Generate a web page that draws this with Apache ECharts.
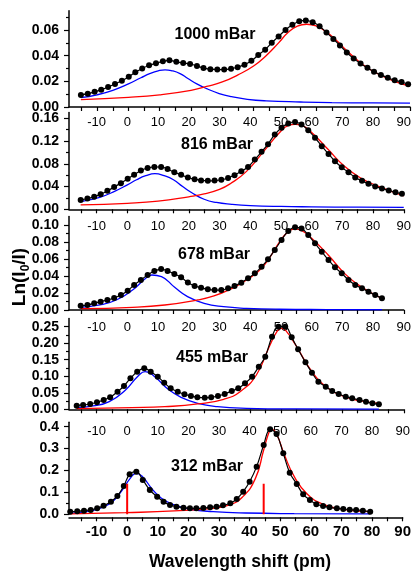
<!DOCTYPE html>
<html><head><meta charset="utf-8">
<script src="https://cdn.jsdelivr.net/npm/echarts@6/dist/echarts.min.js"></script>
<style>html,body{margin:0;padding:0;background:#fff}#c{width:414px;height:572px}</style>
</head><body><div id="c"></div>
<script>
// ---------- data ----------
const pressures = ['1000 mBar', '816 mBar', '678 mBar', '455 mBar', '312 mBar'];

// measured points (x in pm)
const xA = [-15.2,-13.0,-10.8,-8.7,-6.5,-4.3,-2.1,0.1,2.2,4.4,6.6,8.8,11.0,13.1,15.3,17.5,19.7,21.9,24.0,26.2,28.4,30.6,32.8,34.9,37.1,39.3,41.5,43.7,45.8,48.0,50.2,52.4,54.6,56.7,58.9,61.1,63.3,65.5,67.6,69.8,72.0,74.2,76.4,78.5,80.7,82.9,85.1,87.3,89.4];
const y1000 = [0.0094,0.0104,0.0118,0.0135,0.0156,0.018,0.0205,0.0235,0.027,0.030,0.0325,0.034,0.0356,0.0364,0.0352,0.0343,0.0335,0.032,0.0303,0.0295,0.0292,0.0292,0.0298,0.031,0.033,0.036,0.0405,0.0447,0.050,0.055,0.060,0.064,0.0668,0.0675,0.066,0.063,0.058,0.053,0.048,0.0425,0.0377,0.0338,0.0305,0.0275,0.025,0.0228,0.0208,0.0195,0.0177];
const y816 = [0.0165,0.019,0.022,0.0266,0.0325,0.039,0.046,0.0537,0.0608,0.068,0.0726,0.0744,0.0744,0.0708,0.065,0.0608,0.056,0.053,0.0508,0.050,0.0505,0.052,0.055,0.060,0.0667,0.0744,0.0874,0.101,0.1145,0.1317,0.1435,0.151,0.1535,0.149,0.1388,0.1258,0.111,0.0974,0.0844,0.0738,0.065,0.056,0.050,0.0449,0.0402,0.0366,0.0331,0.0301,0.0272];
const y678 = [0.0051,0.0059,0.0078,0.0098,0.0118,0.0141,0.0176,0.0227,0.0294,0.0353,0.0412,0.0459,0.0482,0.0459,0.0424,0.0384,0.0325,0.0282,0.0263,0.0243,0.0235,0.0235,0.0255,0.0282,0.0322,0.0373,0.0431,0.051,0.0596,0.0706,0.0824,0.093,0.0973,0.096,0.0882,0.0784,0.0686,0.0588,0.0502,0.0431,0.0353,0.0294,0.0255,0.0216,0.0176,0.0137];
const x455 = [-16.5,-14.4,-12.1,-9.9,-7.7,-5.6,-3.2,-1.1,1.0,3.2,5.5,7.6,9.9,12.0,14.1,16.4,18.6,20.7,22.8,25.2,27.3,29.5,31.7,34.0,36.1,38.3,40.6,42.8,44.9,47.1,49.2,51.4,53.5,55.6,58.0,60.1,62.2,64.6,66.7,68.8,71.1,73.2,75.6,77.7,79.8,81.9];
const y455 = [0.0111,0.0131,0.0161,0.0212,0.0282,0.0363,0.0534,0.0706,0.0938,0.1139,0.124,0.1139,0.0988,0.0806,0.0635,0.0534,0.0454,0.0403,0.0363,0.0353,0.0363,0.0403,0.0464,0.0554,0.0635,0.0786,0.0988,0.129,0.159,0.2198,0.25,0.25,0.2177,0.1815,0.1421,0.1109,0.0837,0.0685,0.0554,0.0464,0.0383,0.0333,0.0282,0.0232,0.0181,0.0151];
const x312 = [-18.6,-16.3,-14.1,-11.9,-9.8,-7.7,-5.3,-3.2,-1.1,0.8,3.0,5.1,7.4,9.8,11.9,14.0,16.1,18.4,20.5,22.6,24.9,27.1,29.2,31.3,33.7,35.8,37.9,40.0,42.3,44.6,46.7,48.8,51.0,53.1,55.4,57.5,59.7,61.8,64.0,66.1,68.5,70.6,72.7,74.8,77.0,79.4];
const y312 = [0.0122,0.0137,0.0167,0.0198,0.0274,0.0395,0.0578,0.0837,0.1293,0.1825,0.1947,0.1567,0.111,0.0806,0.0578,0.0426,0.035,0.0304,0.0274,0.0274,0.0289,0.0319,0.035,0.0411,0.0502,0.07,0.1034,0.149,0.2175,0.3163,0.3878,0.3665,0.2783,0.1901,0.1384,0.0913,0.0654,0.0456,0.038,0.0319,0.0274,0.0243,0.0213,0.0198,0.0167,0.0122];

// fitted components [x, y]
const blue1000 = [[-15.2,0.0073],[-10,0.0095],[-5,0.013],[0,0.018],[4,0.0228],[7,0.0262],[9.5,0.0282],[11.7,0.029],[14,0.0282],[16.5,0.026],[19,0.0222],[22,0.0178],[25,0.0143],[29,0.0105],[33,0.008],[38,0.006],[44,0.0048],[55,0.0039],[65,0.0034],[78,0.0032],[90,0.003]];
const red1000 = [[-15.2,0.0057],[0,0.0075],[10,0.0095],[20,0.013],[25,0.016],[30,0.0195],[35,0.025],[40,0.032],[44,0.040],[48,0.050],[51,0.058],[54,0.063],[57,0.0645],[60,0.0632],[63,0.059],[66,0.053],[70,0.0435],[75,0.033],[80,0.0255],[85,0.020],[90,0.0163]];
const blue816 = [[-15.2,0.0136],[-9,0.021],[-4,0.032],[0,0.043],[3,0.052],[6,0.059],[9,0.0626],[12,0.059],[15,0.052],[18,0.040],[21,0.029],[25,0.0177],[29,0.012],[34,0.0088],[40,0.0066],[50,0.005],[60,0.0043],[75,0.0037],[90,0.0034]];
const red816 = [[-15.2,0.0077],[0,0.0105],[10,0.0142],[20,0.022],[25,0.027],[30,0.035],[33.5,0.0449],[38.8,0.0667],[44.2,0.1004],[49.5,0.1346],[52.5,0.1476],[54.6,0.1494],[56.8,0.1476],[60.1,0.1346],[65.4,0.105],[70.7,0.0756],[76,0.0549],[81.4,0.0413],[90,0.0236]];
const blue678 = [[-15.2,0.0031],[-8.9,0.0059],[-3.6,0.0118],[1.7,0.0235],[6,0.0373],[8,0.0412],[11.1,0.0392],[15.4,0.0267],[19.6,0.0157],[25,0.0078],[31.3,0.0039],[38.8,0.002],[49.5,0.0009],[65,0.0005],[82.9,0.0003]];
const red678 = [[-15.2,0.0016],[1.7,0.0031],[12.2,0.0059],[22.9,0.0118],[28.2,0.0165],[33.5,0.0243],[38.8,0.0353],[44.2,0.051],[49.5,0.080],[52,0.091],[54.5,0.0955],[57,0.093],[60,0.0845],[65.4,0.0647],[70.7,0.0431],[76,0.0275],[82.9,0.0137]];
const blue455 = [[-16.5,0.005],[-11.2,0.0101],[-5.9,0.0232],[-0.6,0.0585],[3.6,0.1018],[5.8,0.1139],[8.9,0.0988],[13.3,0.0605],[17.5,0.0363],[22.9,0.0181],[29.3,0.0081],[38.8,0.003],[54.8,0.001],[81.9,0.0006]];
const red455 = [[-16.5,0.002],[1.5,0.005],[12.2,0.008],[22.9,0.0161],[31.4,0.0302],[36.7,0.0534],[42,0.1038],[46.2,0.1895],[48.9,0.2379],[50.2,0.245],[51.6,0.2379],[54.8,0.1946],[60.1,0.1139],[65.4,0.0635],[70.7,0.0383],[76,0.0252],[81.9,0.0181]];
const blue312 = [[-18.6,0.0046],[-13.3,0.0122],[-9,0.0274],[-4.8,0.0578],[-1.6,0.111],[1,0.164],[2.9,0.187],[4.8,0.175],[8,0.1186],[11.2,0.073],[15.4,0.0426],[20.7,0.0228],[28.1,0.0122],[38.7,0.006],[54.6,0.003],[79.4,0.0015]];
const red312 = [[-18.6,0.002],[-0.5,0.0076],[15.4,0.0152],[28.1,0.0274],[33.4,0.0426],[37.6,0.0776],[41.9,0.164],[44.6,0.2935],[46.4,0.377],[47.2,0.388],[48.8,0.3665],[51.4,0.2707],[54.6,0.1719],[58.8,0.0928],[64.1,0.0456],[70.5,0.0228],[79.4,0.0122]];
// line positions (stick spectrum) in the 312 mBar panel
const stickX = [0, 44.6];
const stickH = [0.14, 0.14];

// axes / ticks
const xRange = [-19, 90];
const xLabels = [-10,0,10,20,30,40,50,60,70,80,90];
const xTicks = [-15,-10,-5,0,5,10,15,20,25,30,35,40,45,50,55,60,65,70,75,80,85,90];
const yMax = [0.075, 0.17, 0.11, 0.275, 0.42];
const yMajor = [[0,0.02,0.04,0.06],[0,0.04,0.08,0.12,0.16],[0,0.02,0.04,0.06,0.08,0.10],[0,0.05,0.10,0.15,0.20,0.25],[0,0.1,0.2,0.3,0.4]];
const yMinor = [[0.01,0.03,0.05,0.07],[0.02,0.06,0.10,0.14],[0.01,0.03,0.05,0.07,0.09],[0.025,0.075,0.125,0.175,0.225],[0.05,0.15,0.25,0.35]];
const yDec = [2,2,2,2,1];

// ---------- layout ----------
const FONT = '"Liberation Sans", Arial, sans-serif';
const boxes = [[10.75,96.25],[112.6,96.7],[216.5,93.5],[318.4,90.9],[422.3,92]];
const panels = [
  {x: xA, y: y1000, blue: blue1000, red: red1000},
  {x: xA, y: y816, blue: blue816, red: red816},
  {x: xA, y: y678, blue: blue678, red: red678},
  {x: x455, y: y455, blue: blue455, red: red455},
  {x: x312, y: y312, blue: blue312, red: red312}
];
const labelPos = [[215,35],[217,145],[214,255],[212,358],[207,467]];

const grid = [], xAxis = [], yAxis = [], series = [], graphic = [];
boxes.forEach((b, i) => {
  grid.push({left: 69, right: 4, top: b[0], height: b[1]});
  const last = i === 4;
  // bottom axis
  xAxis.push({type:'value', gridIndex:i, min:xRange[0], max:xRange[1], position:'bottom',
    offset: last ? 3 : 0,
    axisLine:{show:true, onZero:false, lineStyle:{color:'#000', width:1.5}},
    axisTick:{show:true, inside:false, length:4, customValues:xTicks, lineStyle:{color:'#000', width:1.2}},
    axisLabel:{show:last, customValues:xLabels, color:'#000', fontFamily:FONT, fontWeight:'bold', fontSize:15, margin:7},
    splitLine:{show:false}});
  // top inner labels
  xAxis.push({type:'value', gridIndex:i, min:xRange[0], max:xRange[1], position:'top',
    axisLine:{show:false, onZero:false}, axisTick:{show:false},
    axisLabel:{show:i>0, inside:true, customValues:xLabels, color:'#000', fontFamily:FONT, fontSize:13, margin:3},
    splitLine:{show:false}});
  yAxis.push({type:'value', gridIndex:i, min:0, max:yMax[i], position:'left',
    axisLine:{show:true, onZero:false, lineStyle:{color:'#000', width:1.5}},
    axisTick:{show:true, inside:false, length:5, customValues:yMajor[i], lineStyle:{color:'#000', width:1.2}},
    axisLabel:{customValues:yMajor[i], color:'#000', fontFamily:FONT, fontWeight:'bold', fontSize:14, margin:10,
      formatter: v => Number(v).toFixed(yDec[i])},
    splitLine:{show:false}});
  yAxis.push({type:'value', gridIndex:i, min:0, max:yMax[i], position:'left',
    axisLine:{show:false, onZero:false},
    axisTick:{show:true, inside:false, length:3, customValues:yMinor[i], lineStyle:{color:'#000', width:1.2}},
    axisLabel:{show:false}, splitLine:{show:false}});
  const p = panels[i];
  const xi = 2*i, yi = 2*i;
  series.push({type:'line', xAxisIndex:xi, yAxisIndex:yi, data:p.blue, smooth:true, symbol:'none',
    lineStyle:{color:'#0000ff', width:1.3}, z:2, silent:true});
  series.push({type:'line', xAxisIndex:xi, yAxisIndex:yi, data:p.red, smooth:true, symbol:'none',
    lineStyle:{color:'#ff0000', width:1.3}, z:2, silent:true});
  series.push({type:'line', xAxisIndex:xi, yAxisIndex:yi, data:p.x.map((v,k)=>[v,p.y[k]]), smooth:0.4,
    symbol:'circle', symbolSize:6, itemStyle:{color:'#000'}, lineStyle:{color:'#000', width:1.2}, z:3, silent:true});
  graphic.push({type:'text', x:labelPos[i][0], y:labelPos[i][1], z:10,
    style:{text:pressures[i], fill:'#000', font:'bold 16px '+FONT, align:'center', verticalAlign:'middle'}});
});
stickX.forEach((sx, k) => {
  series.push({type:'line', xAxisIndex:8, yAxisIndex:8, data:[[sx,0],[sx,stickH[k]]], symbol:'none',
    lineStyle:{color:'#ff0000', width:2}, z:4, silent:true});
});
graphic.push({type:'text', x:240, y:562, style:{text:'Wavelength shift (pm)', fill:'#000',
  font:'bold 17.5px '+FONT, align:'center', verticalAlign:'middle'}});
graphic.push({type:'text', x:20, y:277, rotation:Math.PI/2, style:{
  text:'{a|Ln(I}{b|0}{a|/I)}', align:'center', verticalAlign:'middle',
  rich:{a:{fontSize:19, fontWeight:'bold', fontFamily:FONT, fill:'#000', lineHeight:24, verticalAlign:'middle'},
        b:{fontSize:12, fontWeight:'bold', fontFamily:FONT, fill:'#000', lineHeight:24, verticalAlign:'bottom'}}}});

const chart = echarts.init(document.getElementById('c'), null, {renderer:'canvas'});
chart.setOption({animation:false, backgroundColor:'#fff', grid, xAxis, yAxis, series, graphic});
</script></body></html>
